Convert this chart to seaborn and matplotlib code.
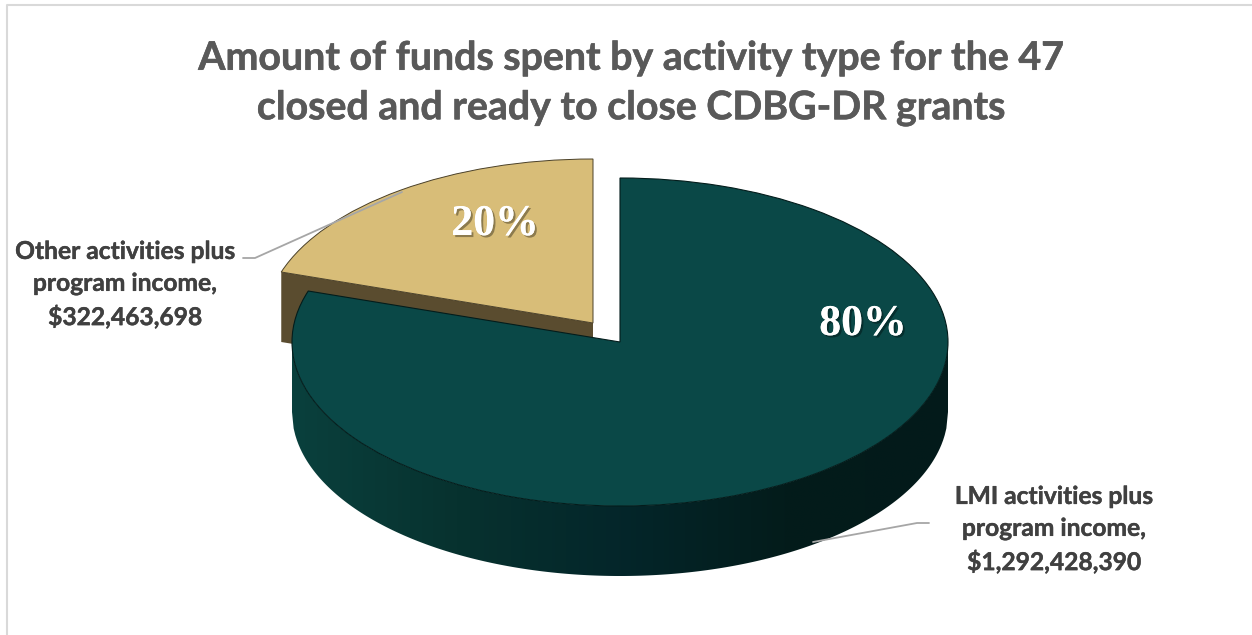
import numpy as np
import matplotlib
matplotlib.use('Agg')
import matplotlib.pyplot as plt
import matplotlib.patheffects as pe
from matplotlib.patches import Polygon
import seaborn as sns

# Chart data
categories = ['LMI activities plus\nprogram income,', 'Other activities plus\nprogram income,']
amounts = [1292428390, 322463698]
title = 'Amount of funds spent by activity type for the 47\nclosed and ready to close CDBG-DR grants'

# Colours
TEAL = '#0a4847'
GOLD = '#d8bd78'
BROWN = '#5a4c2f'
LEADER = '#a6a6a6'

# Pie geometry in image pixels
W, H = 1252, 635
TILT = 0.5
CX, CY = 620, 342
RX = 328
DEPTH = 70
SHIFT = (-27, -19)

sns.set_theme(style='white')
plt.rcParams['font.family'] = ['Lato', 'DejaVu Sans']


def yd(py):
    # pixel row to the squashed data coordinate the pie is drawn in
    return (H - py) / TILT


def ellipse_y(x):
    return CY + TILT * np.sqrt(np.clip(RX ** 2 - (x - CX) ** 2, 0, None))


def bolder(color, width):
    return [pe.Stroke(linewidth=width, foreground=color), pe.Normal()]


fig = plt.figure(figsize=(W / 100, H / 100), dpi=100)
ax = fig.add_axes([0, 0, 1, 1])

shares = np.array(amounts) / sum(amounts)
end_angle = np.deg2rad(360 * shares[0])
tip_x = CX + SHIFT[0] + RX * np.sin(end_angle)
tip_y = CY + SHIFT[1] - RX * TILT * np.cos(end_angle)
apex_x, apex_y = CX + SHIFT[0], CY + SHIFT[1]

# Cut face of the pulled out slice, the big slice covers most of it
ax.fill([tip_x, apex_x, apex_x, tip_x],
        [yd(tip_y), yd(apex_y), yd(apex_y + DEPTH), yd(tip_y + DEPTH)],
        color=BROWN, lw=0, zorder=1)

# Top of the pulled out slice
gold, _ = ax.pie(
    [shares[1], shares[0]], startangle=90 + 360 * shares[1], counterclock=False,
    center=(apex_x, yd(apex_y)), radius=RX, colors=[GOLD, 'none'],
)
gold[0].set(edgecolor='#4a4028', linewidth=0.7, zorder=2)
gold[1].set_visible(False)

# Side wall of the big slice, a left to right gradient clipped to the wall shape
wall_cmap = sns.blend_palette(['#0a403d', '#07322f', '#04262a', '#031c1b', '#031a1a'], as_cmap=True)
xs = np.linspace(CX - RX, CX + RX, 400)
wall_path = np.vstack([
    np.column_stack([xs, yd(ellipse_y(xs))]),
    np.column_stack([xs[::-1], yd(ellipse_y(xs[::-1]) + DEPTH)]),
])
wall_shape = Polygon(wall_path, closed=True, transform=ax.transData, facecolor='none', edgecolor='none')
ax.add_patch(wall_shape)
wall = ax.imshow(np.linspace(0, 1, 256).reshape(1, -1), cmap=wall_cmap, aspect='auto',
                 extent=(CX - RX, CX + RX, yd(CY + RX * TILT + DEPTH), yd(CY)),
                 interpolation='bilinear', zorder=3)
wall.set_clip_path(wall_shape)

# Top of the big slice
teal, _ = ax.pie(
    [shares[0], shares[1]], startangle=90, counterclock=False,
    center=(CX, yd(CY)), radius=RX, colors=[TEAL, 'none'],
)
teal[0].set(edgecolor='#031c1b', linewidth=0.8, zorder=4)
teal[1].set_visible(False)

ax.set_aspect('auto')
ax.set_xlim(0, W)
ax.set_ylim(0, H / TILT)
ax.axis('off')

# Leader lines
ax.plot([813, 917, 929], [yd(542), yd(523), yd(523)], color=LEADER, lw=1.3, zorder=5)
ax.plot([402, 255, 243], [yd(192), yd(258), yd(258)], color=LEADER, lw=1.3, zorder=5)

# Chart frame, only the top and left edges are in the picture
ax.plot([7, 7, W], [yd(H), yd(5), yd(5)], color='#d9d9d9', lw=1.5, zorder=0)

# Percent labels
shadow = [pe.withSimplePatchShadow(offset=(1.5, -1.5), shadow_rgbFace='#000000', alpha=0.35), pe.Normal()]
for (px, py), share in zip([(863, 324), (495, 224)], shares):
    ax.text(px, yd(py), f'{share:.0%}', color='white', fontsize=31.5, fontweight='bold',
            family='Liberation Serif', ha='center', va='center', zorder=6, path_effects=shadow)

# Category labels
for (px, py), cat, amount in zip([(1054, 529.5), (125, 284.5)], categories, amounts):
    ax.text(px, yd(py), f'{cat}\n${amount:,}', color='#404040', fontsize=17.7, fontweight='bold',
            ha='center', va='center', linespacing=1.47, zorder=6, path_effects=bolder('#404040', 0.3))

ax.text(630.5, yd(83), title, color='#595959', fontsize=28.3, fontweight='bold',
        ha='center', va='center', linespacing=1.5, zorder=6, path_effects=bolder('#595959', 0.4))

fig.savefig('out.png', dpi=100, facecolor='white')
